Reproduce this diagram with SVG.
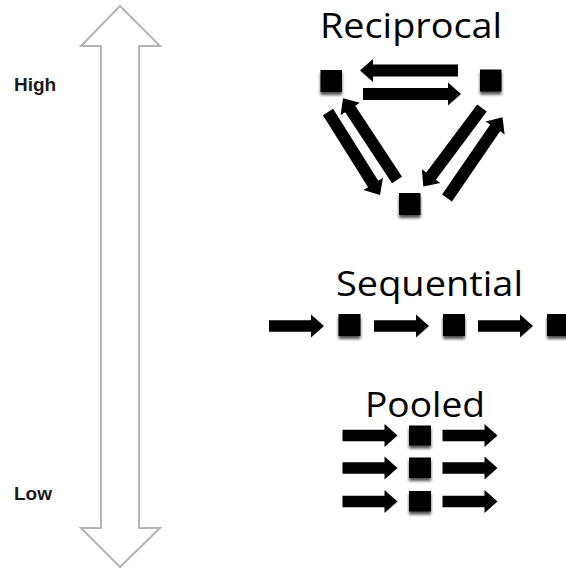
<svg xmlns="http://www.w3.org/2000/svg" xmlns:xlink="http://www.w3.org/1999/xlink" width="566" height="569" viewBox="0 0 566 569">
  <style>
    .title { font-family: "Open Sans", "Liberation Sans", sans-serif; font-size: 35px; fill: #000; }
    .level { font-family: "Liberation Sans", "DejaVu Sans", sans-serif; font-size: 19px; font-weight: bold; fill: #1a1a1a; }
    .scale { fill: #fff; stroke: #b4b4b4; stroke-width: 2; stroke-linejoin: miter; }
    .unit { fill: #000; filter: url(#soft); }
    .flow { fill: #000; }
  </style>
  <defs>
    <filter id="soft" x="-40%" y="-40%" width="180%" height="200%">
      <feGaussianBlur in="SourceAlpha" stdDeviation="1.8" result="b"/>
      <feOffset in="b" dy="2.5" result="o"/>
      <feComponentTransfer in="o" result="s"><feFuncA type="linear" slope="0.7"/></feComponentTransfer>
      <feGaussianBlur in="SourceGraphic" stdDeviation="0.6" result="g"/>
      <feMerge><feMergeNode in="s"/><feMergeNode in="g"/></feMerge>
    </filter>
    <!-- block arrows: tail at origin, pointing along +x -->
    <path id="longArrow" class="flow" d="M0,-6 H85 V-11.5 L98,0 L85,11.5 V6 H0 Z"/>
    <path id="shortArrow" class="flow" d="M0,-5.8 H42 V-11.5 L55,0 L42,11.5 V5.8 H0 Z"/>
  </defs>

  <!-- vertical High/Low scale -->
  <g id="scale">
    <path class="scale" d="M120,6 L160,46 H139 V528 H160 L120,567 L81,528 H101 V46 H81 Z"/>
    <text class="level" x="14" y="91">High</text>
    <text class="level" x="14" y="500">Low</text>
  </g>

  <!-- reciprocal interdependence -->
  <g id="reciprocal">
    <text class="title" x="320" y="37.5" textLength="182" lengthAdjust="spacingAndGlyphs">Reciprocal</text>
    <rect id="rec-a" class="unit" x="320.5" y="70" width="21.5" height="22"/>
    <rect id="rec-b" class="unit" x="480" y="69.5" width="21.5" height="22"/>
    <rect id="rec-c" class="unit" x="399" y="193" width="21.5" height="22"/>
  </g>

  <!-- sequential interdependence -->
  <g id="sequential">
    <text class="title" x="336" y="295.5" textLength="187" lengthAdjust="spacingAndGlyphs">Sequential</text>
    <rect id="seq-a" class="unit" x="338.5" y="314" width="22" height="22"/>
    <rect id="seq-b" class="unit" x="443" y="314" width="22" height="22"/>
    <rect id="seq-c" class="unit" x="547" y="314" width="22" height="22"/>
  </g>

  <!-- pooled interdependence -->
  <g id="pooled">
    <text class="title" x="365" y="416.5" textLength="120" lengthAdjust="spacingAndGlyphs">Pooled</text>
    <rect id="pool-a" class="unit" x="409" y="425.5" width="22" height="20"/>
    <rect id="pool-b" class="unit" x="409" y="457.5" width="22" height="20.5"/>
    <rect id="pool-c" class="unit" x="409" y="491" width="22" height="20.5"/>
  </g>

  <!-- connectors -->
  <g id="connectors">
    <use xlink:href="#longArrow" transform="translate(458,70.5) rotate(180)"/>
    <use xlink:href="#longArrow" transform="translate(363,94)"/>
    <use xlink:href="#longArrow" transform="translate(328,112) rotate(57.9)"/>
    <use xlink:href="#longArrow" transform="translate(397,180) rotate(236.6)"/>
    <use xlink:href="#longArrow" transform="translate(482,108) rotate(126.8)"/>
    <use xlink:href="#longArrow" transform="translate(447,198) rotate(-55.5)"/>

    <use xlink:href="#shortArrow" transform="translate(269,326)"/>
    <use xlink:href="#shortArrow" transform="translate(374,326)"/>
    <use xlink:href="#shortArrow" transform="translate(478,326)"/>

    <use xlink:href="#shortArrow" transform="translate(342.5,435.5)"/>
    <use xlink:href="#shortArrow" transform="translate(342.5,468)"/>
    <use xlink:href="#shortArrow" transform="translate(342.5,501.5)"/>
    <use xlink:href="#shortArrow" transform="translate(442.5,435.5)"/>
    <use xlink:href="#shortArrow" transform="translate(442.5,468)"/>
    <use xlink:href="#shortArrow" transform="translate(442.5,501.5)"/>
  </g>
</svg>
